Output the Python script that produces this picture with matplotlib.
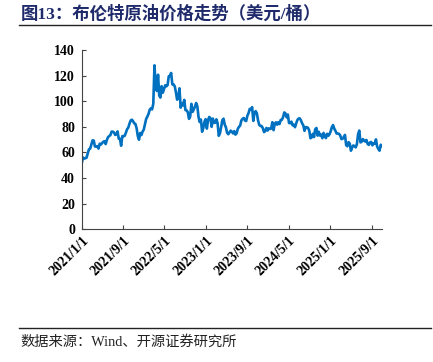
import pandas as pd
import numpy as np
import matplotlib.pyplot as plt
import matplotlib.dates as mdates

plt.rcParams['font.family'] = ['Liberation Serif', 'Noto Sans CJK SC']

# weekly Brent closes (USD/bbl), Fridays from 2021-01-01
brent_2021 = [51.8, 55.99, 55.1, 55.41, 55.88, 59.34, 62.43, 62.91, 66.13,
              69.36, 69.22, 64.53, 64.57, 64.86, 62.95, 66.77, 66.11, 67.25,
              68.28, 68.71, 66.44, 69.63, 71.89, 72.69, 73.51, 76.18,
              76.17, 75.55, 73.59, 74.10, 76.33, 70.70, 70.59, 65.18, 72.70,
              72.61, 72.92, 75.34, 78.09, 79.28, 82.39, 84.86, 85.53, 84.38,
              82.74, 82.17, 78.89, 72.72, 69.88, 75.15, 73.52, 76.14, 77.78]
brent_2022 = [81.75, 86.06, 87.89, 90.03, 93.27, 94.44, 93.54, 97.93,
              127.98, 112.67, 107.93, 120.65, 104.39, 102.78, 111.70, 106.65, 109.34,
              112.39, 111.55, 112.55, 119.43, 119.72, 122.01, 113.12, 113.12,
              111.63, 107.02, 101.16, 103.20, 110.01, 94.92, 98.15, 96.72, 100.99,
              93.02, 92.84, 91.35, 86.15, 87.96, 97.92, 91.63, 93.50, 95.77,
              98.57, 95.99, 87.62, 83.63, 85.57, 76.10, 79.04, 83.92, 85.91]
brent_2023 = [78.57, 85.28, 87.63, 86.66, 79.94, 86.39, 83.00, 83.16,
              85.83, 82.78, 72.97, 74.99, 79.77, 85.12, 86.31, 81.66, 79.54,
              75.30, 74.17, 75.58, 76.95, 76.13, 74.79, 76.61, 73.85, 74.90,
              78.47, 79.87, 81.07, 84.99, 86.24, 86.81, 84.80, 84.48,
              88.55, 90.65, 93.93, 93.27, 95.31, 84.58, 90.89, 92.16, 90.48,
              84.89, 81.43, 80.61, 80.58, 78.88, 75.84, 76.55, 79.07, 77.04]
brent_2024 = [78.76, 78.29, 78.56, 83.55, 77.33, 82.19, 83.47, 81.62,
              83.55, 82.08, 85.34, 85.43, 87.48, 91.17, 90.45, 87.29, 89.50,
              82.96, 82.79, 83.98, 81.12, 81.62, 79.62, 82.62, 85.24, 86.41,
              86.54, 85.03, 82.63, 81.13, 76.81, 79.66, 79.68, 79.02, 76.93,
              71.06, 71.61, 74.49, 71.98, 78.05, 79.04, 73.06, 76.05,
              73.10, 73.87, 71.04, 75.17, 72.94, 71.12, 74.49, 72.94, 74.17]
brent_2025 = [76.51, 79.76, 81.29, 78.50, 76.76, 74.66, 74.74, 74.43, 73.18,
              70.36, 70.58, 72.16, 73.63, 65.58, 64.76, 67.96, 66.87,
              61.29, 63.91, 65.41, 64.78, 63.90, 66.47, 74.23, 77.01, 67.77,
              68.30, 70.36, 69.28, 68.44, 69.67, 66.59, 65.85, 67.73, 68.12,
              65.50, 66.99, 66.68, 70.13, 64.53, 62.73, 61.29, 65.94, 65.07]

prices = brent_2021 + brent_2022 + brent_2023 + brent_2024 + brent_2025
dates = pd.date_range('2021-01-01', periods=len(prices), freq='W-FRI')

tick_dates = pd.to_datetime(['2021-01-01', '2021-09-01', '2022-05-01', '2023-01-01',
                             '2023-09-01', '2024-05-01', '2025-01-01', '2025-09-01'])

fig = plt.figure(figsize=(4.33, 3.62), dpi=100)
ax = fig.add_axes([0.189, 0.367, 0.693, 0.495])

ax.plot(dates, prices, color='#0070C0', lw=1.9)

ax.set_ylim(0, 140)
ax.set_yticks(range(0, 141, 20))
ax.set_xlim(pd.Timestamp('2021-01-01'), dates[-1])
ax.set_xticks(tick_dates)
ax.set_xticklabels([f'{d.year}/{d.month}/{d.day}' for d in tick_dates],
                   rotation=45, ha='right', va='top', rotation_mode='anchor')
ax.tick_params(direction='in', length=3, width=0.8, labelsize=10, color='#444444')
ax.tick_params(axis='y', pad=5)
for lab in ax.get_xticklabels() + ax.get_yticklabels():
    lab.set_fontweight('bold')
ax.spines['top'].set_visible(False)
ax.spines['right'].set_visible(False)
for s in ['left', 'bottom']:
    ax.spines[s].set_color('#444444')
    ax.spines[s].set_linewidth(0.8)

# title and source
fig.text(0.048, 0.962, '图13：布伦特原油价格走势（美元/桶）', fontsize=12.5,
         fontweight='bold', color='#1F2A6B', va='center', ha='left')
fig.add_artist(plt.Line2D([0.045, 0.995], [0.93, 0.93], color='#222222', lw=1.0))
fig.add_artist(plt.Line2D([0.045, 0.995], [0.094, 0.094], color='#222222', lw=1.0))
fig.text(0.048, 0.055, '数据来源：Wind、开源证券研究所', fontsize=10.3,
         color='#222222', va='center', ha='left')

fig.savefig('out.png', dpi=100)
